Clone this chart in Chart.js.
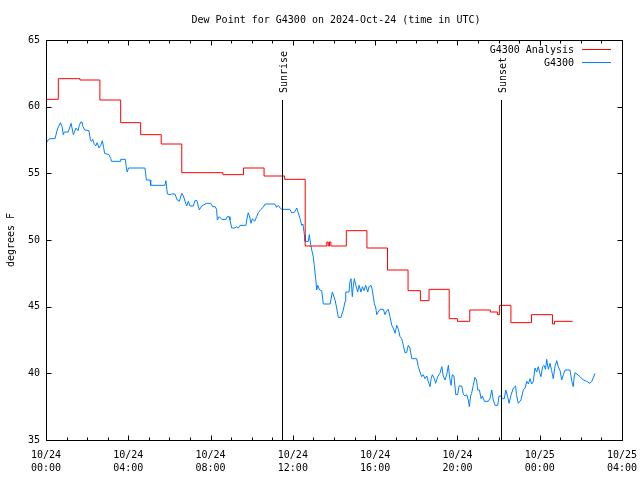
<!DOCTYPE html>
<html>
<head>
<meta charset="utf-8">
<script src="https://cdn.jsdelivr.net/npm/chart.js@4"></script>
<style>
html,body{margin:0;padding:0;background:#fff;}
#wrap{width:640px;height:480px;position:relative;}
</style>
</head>
<body>
<div id="wrap"><canvas id="c" width="640" height="480"></canvas></div>
<script>
// ---- data (hours since 2024-10-24 00:00 UTC) ----
const analysisHours = [0, 0.6, 1.65, 2.62, 3.63, 4.6, 5.6, 6.6, 8.6, 9.6, 10.6, 11.6, 12.6, 13.65, 13.72, 13.78, 13.85, 14.6, 15.6, 16.6, 17.6, 18.2, 18.62, 19.6, 20.0, 20.6, 21.6, 21.95, 22.05, 22.6, 23.6, 24.62, 24.72, 25.6];
const analysisValues = [60.55, 62.1, 62.0, 60.5, 58.8, 57.9, 57.2, 55.05, 54.9, 55.4, 54.8, 54.55, 49.55, 49.85, 49.55, 49.85, 49.55, 50.7, 49.4, 47.75, 46.2, 45.45, 46.3, 44.1, 43.9, 44.75, 44.6, 44.4, 45.1, 43.8, 44.4, 43.7, 43.9, 43.9];

const obsHours = [0.03,0.1,0.19,0.44,0.52,0.58,0.70,0.78,0.84,0.89,1.08,1.22,1.33,1.46,1.56,1.62,1.69,1.75,1.80,1.88,2.09,2.16,2.21,2.27,2.33,2.42,2.48,2.58,2.66,2.74,2.80,2.85,3.06,3.15,3.18,3.60,3.63,3.86,3.90,3.95,4.01,4.81,4.84,4.88,5.06,5.09,5.78,5.83,5.90,6.03,6.10,6.27,6.38,6.48,6.60,6.68,6.76,6.84,6.92,7.00,7.16,7.24,7.34,7.40,7.45,7.57,7.81,8.01,8.10,8.22,8.29,8.33,8.42,8.54,8.75,8.81,8.90,8.94,9.03,9.19,9.27,9.35,9.43,9.72,9.76,9.83,9.89,9.97,10.03,10.14,10.24,10.32,10.45,10.56,10.65,11.13,11.21,11.29,11.38,11.46,11.86,11.94,12.06,12.19,12.26,12.35,12.43,12.49,12.56,12.59,12.75,12.80,12.87,12.92,12.99,13.04,13.11,13.16,13.21,13.30,13.40,13.48,13.81,13.92,14.05,14.13,14.21,14.34,14.45,14.54,14.57,14.73,14.78,14.83,14.89,14.94,14.99,15.06,15.15,15.22,15.31,15.38,15.46,15.54,15.64,15.70,15.80,15.86,15.96,16.03,16.08,16.15,16.24,16.40,16.48,16.56,16.64,16.72,16.81,16.88,16.97,17.05,17.13,17.21,17.29,17.37,17.45,17.53,17.61,17.69,17.78,18.02,18.10,18.18,18.26,18.34,18.42,18.51,18.58,18.67,18.72,18.78,18.88,18.94,19.04,19.15,19.24,19.31,19.40,19.48,19.56,19.62,19.69,19.75,19.83,19.92,20.01,20.08,20.21,20.29,20.37,20.45,20.53,20.58,20.64,20.69,20.77,20.85,20.93,20.99,21.07,21.15,21.21,21.31,21.50,21.58,21.67,21.74,21.83,21.96,22.02,22.12,22.18,22.28,22.35,22.44,22.51,22.61,22.72,22.83,22.87,22.96,23.09,23.20,23.29,23.37,23.45,23.53,23.61,23.69,23.77,23.85,23.93,24.01,24.06,24.14,24.21,24.28,24.34,24.42,24.50,24.58,24.66,24.74,24.83,24.90,24.99,25.07,25.15,25.23,25.47,25.56,25.63,25.68,25.72,25.96,26.12,26.28,26.44,26.53,26.69];
const obsValues = [57.3,57.5,57.6,57.6,58.1,58.4,58.8,58.5,57.9,58.1,58.1,58.75,57.9,58.4,58.2,58.6,58.85,58.85,58.5,58.25,58.2,57.5,57.4,57.55,57.25,57.05,57.3,56.9,57.1,57.45,56.95,56.5,56.4,56.1,55.9,55.9,56.05,56.05,55.5,55.1,55.4,55.4,55.0,54.5,54.5,54.1,54.1,54.45,53.45,53.4,53.45,53.45,53.0,52.9,53.5,53.3,52.9,52.55,52.9,52.55,52.55,52.95,52.95,52.55,52.25,52.55,52.75,52.75,52.5,52.5,52.3,51.5,51.75,51.55,51.55,51.75,51.75,51.5,50.9,50.9,51.0,50.9,51.1,51.1,51.5,52.05,51.8,51.25,51.6,51.4,51.75,52.05,52.3,52.45,52.7,52.7,52.45,52.6,52.4,52.3,52.3,52.05,52.05,52.4,52.05,51.6,51.1,51.2,50.4,49.9,49.9,50.4,49.6,49.25,48.75,48.1,47.1,46.25,46.6,46.25,46.2,45.2,45.2,46.1,45.5,44.9,44.2,44.2,44.75,45.4,46.1,46.1,46.9,47.1,45.75,46.6,47.1,46.6,46.1,46.6,46.1,46.5,46.2,46.6,46.1,46.5,46.6,46.25,45.25,44.9,44.4,44.6,44.8,44.8,44.4,44.7,44.8,44.25,43.6,43.4,43.0,43.6,43.3,42.75,42.6,42.1,41.55,41.55,42.1,41.9,41.1,41.1,40.5,40.1,39.75,39.9,39.6,39.8,39.4,39.0,39.6,39.9,39.6,39.25,39.75,40.0,40.5,39.8,39.5,39.9,40.6,39.7,39.1,39.9,39.8,38.4,38.4,39.05,39.05,38.4,38.3,38.4,38.0,37.5,38.3,38.5,39.1,39.7,39.5,38.75,38.75,38.1,38.3,37.9,37.9,38.1,38.75,38.0,37.6,37.6,38.3,38.3,38.1,38.1,38.75,38.25,37.75,38.4,38.9,39.05,38.4,37.75,38.0,38.75,38.9,39.4,39.2,39.6,39.2,39.4,40.4,40.1,40.5,40.0,39.75,40.5,40.6,40.3,41.05,40.3,40.75,40.2,39.6,40.5,40.95,40.5,40.2,39.5,39.9,40.25,40.25,39.4,39.0,39.8,40.05,39.75,39.5,39.4,39.25,39.4,40.0];

const xTickHours = [0, 4, 8, 12, 16, 20, 24, 28];
const xTickDates = ['10/24','10/24','10/24','10/24','10/24','10/24','10/25','10/25'];
const xTickTimes = ['00:00','04:00','08:00','12:00','16:00','20:00','00:00','04:00'];
const yTicks = [35, 40, 45, 50, 55, 60, 65];

const sunNames = ['Sunrise', 'Sunset'];
const sunHours = [11.47, 22.12];
const sunLineTop = 60.5; // value where the marker lines start

const seriesNames = ['G4300 Analysis', 'G4300'];
const titleText = 'Dew Point for G4300 on 2024-Oct-24 (time in UTC)';
const yAxisTitle = 'degrees F';

// ---- styling ----
const FONT = '10px "DejaVu Sans Mono", "Liberation Mono", monospace';
const RED = '#ff0000';
const BLUE = '#0080ff';

const pts = (xs, ys) => xs.map((h, i) => ({ x: h, y: ys[i] }));

const decor = {
  id: 'decor',
  afterDatasetsDraw(chart) {
    const { ctx, chartArea: a, scales: { x, y } } = chart;
    ctx.save();
    ctx.strokeStyle = '#000';
    ctx.lineWidth = 1;
    const top = Math.round(y.getPixelForValue(sunLineTop));
    sunHours.forEach((h, i) => {
      const px = Math.round(x.getPixelForValue(h)) + 0.5;
      ctx.beginPath();
      ctx.moveTo(px, top);
      ctx.lineTo(px, a.bottom);
      ctx.stroke();
      ctx.save();
      ctx.translate(px + 2, top - 7);
      ctx.rotate(-Math.PI / 2);
      ctx.font = FONT;
      ctx.fillStyle = '#000';
      ctx.textAlign = 'left';
      ctx.textBaseline = 'middle';
      ctx.fillText(sunNames[i], 0, 0);
      ctx.restore();
    });
    ctx.restore();
  },
  afterDraw(chart) {
    const { ctx, chartArea: a, scales: { x, y } } = chart;
    ctx.save();
    ctx.strokeStyle = '#000';
    ctx.lineWidth = 1;
    const L = Math.round(a.left) + 0.5, R = Math.round(a.right) + 0.5;
    const T = Math.round(a.top) + 0.5, B = Math.round(a.bottom) + 0.5;
    ctx.strokeRect(L, T, R - L, B - T);
    ctx.beginPath();
    for (let h = x.min; h <= x.max; h += 1) {
      const px = Math.round(x.getPixelForValue(h)) + 0.5;
      const len = (h % 4 === 0) ? 5 : 3;
      ctx.moveTo(px, B); ctx.lineTo(px, B - len);
      ctx.moveTo(px, T); ctx.lineTo(px, T + len);
    }
    yTicks.forEach(v => {
      const py = Math.round(y.getPixelForValue(v)) + 0.5;
      ctx.moveTo(L, py); ctx.lineTo(L + 5, py);
      ctx.moveTo(R, py); ctx.lineTo(R - 5, py);
    });
    ctx.stroke();

    ctx.font = FONT;
    ctx.fillStyle = '#000';
    ctx.textBaseline = 'middle';
    // x tick labels (two lines)
    ctx.textAlign = 'center';
    xTickHours.forEach((h, i) => {
      const px = x.getPixelForValue(h);
      ctx.fillText(xTickDates[i], px, a.bottom + 15);
      ctx.fillText(xTickTimes[i], px, a.bottom + 28);
    });
    // y tick labels
    ctx.textAlign = 'right';
    yTicks.forEach(v => {
      ctx.fillText(String(v), a.left - 6, y.getPixelForValue(v));
    });
    // title
    ctx.textAlign = 'center';
    ctx.fillText(titleText, (a.left + a.right) / 2 + 2, 20);
    // y axis title
    ctx.save();
    ctx.translate(11, (a.top + a.bottom) / 2);
    ctx.rotate(-Math.PI / 2);
    ctx.fillText(yAxisTitle, 0, 0);
    ctx.restore();
    // legend
    const colors = [RED, BLUE];
    seriesNames.forEach((n, i) => {
      const ly = a.top + 10 + i * 13;
      ctx.textAlign = 'right';
      ctx.fillStyle = '#000';
      ctx.fillText(n, a.right - 48, ly);
      ctx.strokeStyle = colors[i];
      ctx.beginPath();
      ctx.moveTo(a.right - 40, Math.round(ly) - 0.5);
      ctx.lineTo(a.right - 11, Math.round(ly) - 0.5);
      ctx.stroke();
    });
    ctx.restore();
  }
};

new Chart(document.getElementById('c'), {
  type: 'line',
  data: {
    datasets: [
      {
        label: seriesNames[0],
        data: pts(analysisHours, analysisValues),
        borderColor: RED,
        borderWidth: 1,
        pointRadius: 0,
        stepped: 'before',
        fill: false
      },
      {
        label: seriesNames[1],
        data: pts(obsHours, obsValues),
        borderColor: BLUE,
        borderWidth: 1,
        pointRadius: 0,
        tension: 0,
        fill: false
      }
    ]
  },
  options: {
    responsive: false,
    animation: false,
    devicePixelRatio: 1,
    layout: { padding: { left: 0, right: 18, top: 40, bottom: 0 } },
    plugins: { legend: { display: false }, title: { display: false }, tooltip: { enabled: false } },
    scales: {
      x: {
        type: 'linear',
        min: 0, max: 28,
        afterBuildTicks: s => { s.ticks = xTickHours.map(v => ({ value: v })); },
        afterFit: s => { s.height = 40; },
        grid: { display: false },
        border: { display: false },
        ticks: { display: false }
      },
      y: {
        min: 35, max: 65,
        afterBuildTicks: s => { s.ticks = yTicks.map(v => ({ value: v })); },
        afterFit: s => { s.width = 46; },
        grid: { display: false },
        border: { display: false },
        ticks: { display: false }
      }
    }
  },
  plugins: [decor]
});
</script>
</body>
</html>
